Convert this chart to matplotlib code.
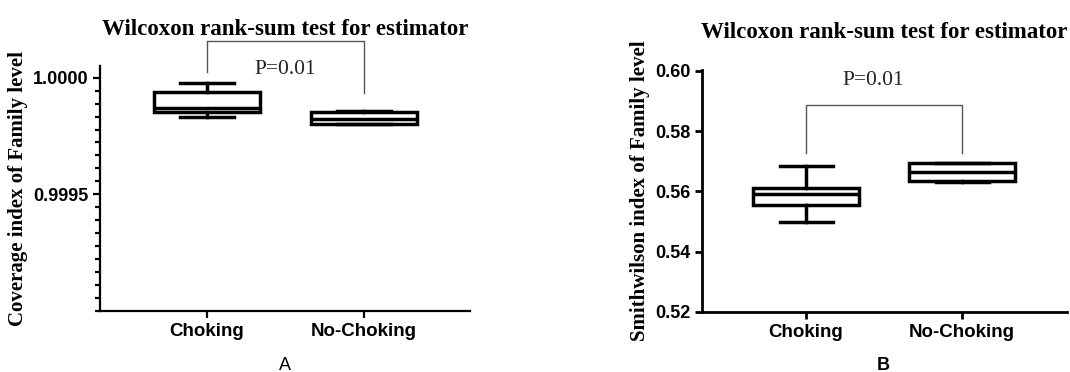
import matplotlib
matplotlib.use("Agg")
import matplotlib.pyplot as plt
from matplotlib.ticker import AutoMinorLocator, FixedLocator

groups = ["Choking", "No-Choking"]

# panel A: coverage index, five-number summaries
cov_whislo = [0.999830, 0.999800]
cov_q1 = [0.999852, 0.999802]
cov_med = [0.999869, 0.999825]
cov_q3 = [0.999940, 0.999854]
cov_whishi = [0.999977, 0.999857]

# panel B: smithwilson index
sw_whislo = [0.5498, 0.5633]
sw_q1 = [0.5554, 0.5636]
sw_med = [0.5590, 0.5663]
sw_q3 = [0.5610, 0.5693]
sw_whishi = [0.5683, 0.5696]

p_text = "P=0.01"
title = "Wilcoxon rank-sum test for estimator"

SERIF = "Liberation Serif"
SANS = "Liberation Sans"


def stats(lo, q1, med, q3, hi):
    return [dict(whislo=lo[i], q1=q1[i], med=med[i], q3=q3[i], whishi=hi[i], fliers=[])
            for i in range(len(lo))]


def draw_box(ax, st, lw):
    ax.bxp(st, positions=[1, 2], widths=0.68, capwidths=0.34, showfliers=False,
           patch_artist=True,
           boxprops=dict(facecolor="white", edgecolor="black", linewidth=lw),
           medianprops=dict(color="black", linewidth=lw),
           whiskerprops=dict(color="black", linewidth=lw),
           capprops=dict(color="black", linewidth=lw))


def style(ax, spine_lw):
    for s in ("top", "right"):
        ax.spines[s].set_visible(False)
    for s in ("left", "bottom"):
        ax.spines[s].set_linewidth(spine_lw)
    ax.set_xticks([1, 2])
    ax.set_xticklabels(groups, fontfamily=SANS, fontweight="bold", fontsize=13.5)
    ax.tick_params(axis="both", which="major", length=5, width=spine_lw, color="black")
    ax.tick_params(axis="y", which="minor", length=3.5, width=spine_lw)
    for lab in ax.get_yticklabels():
        lab.set_fontfamily(SANS)
        lab.set_fontweight("bold")
        lab.set_fontsize(13)


def bracket(ax, y_top, y_left, y_right):
    ax.plot([1, 1, 2, 2], [y_left, y_top, y_top, y_right], color="#555555",
            linewidth=1.0, clip_on=False)


fig = plt.figure(figsize=(10.7, 3.72), dpi=100)

# ---- A
axA = fig.add_axes([100 / 1070, 61 / 372, 370 / 1070, 245 / 372])
draw_box(axA, stats(cov_whislo, cov_q1, cov_med, cov_q3, cov_whishi), 2.5)
axA.set_xlim(0.318, 2.675)
axA.set_ylim(0.9990, 1.00005)
axA.yaxis.set_major_locator(FixedLocator([0.9995, 1.0000]))
axA.yaxis.set_major_formatter(matplotlib.ticker.FormatStrFormatter("%.4f"))
axA.yaxis.set_minor_locator(AutoMinorLocator(9))
style(axA, 1.6)
axA.set_ylabel("Coverage index of Family level", fontfamily=SERIF,
               fontweight="bold", fontsize=15)
axA.yaxis.set_label_coords(-0.195, 0.5)
axA.set_title(title, fontfamily=SERIF, fontweight="bold", fontsize=16.5, pad=22)
bracket(axA, 1.000156, 1.000023, 0.999934)
axA.text(1.5, 1.000036, p_text, fontfamily=SERIF, fontsize=15.5,
         ha="center", va="center", color="#222222")

# ---- B
axB = fig.add_axes([702 / 1070, 60 / 372, 365 / 1070, 242 / 372])
draw_box(axB, stats(sw_whislo, sw_q1, sw_med, sw_q3, sw_whishi), 2.5)
axB.set_xlim(0.333, 2.673)
axB.set_ylim(0.52, 0.6003)
axB.set_yticks([0.52, 0.54, 0.56, 0.58, 0.60])
axB.yaxis.set_major_formatter(matplotlib.ticker.FormatStrFormatter("%.2f"))
style(axB, 2.0)
axB.set_ylabel("Smithwilson index of Family level", fontfamily=SERIF,
               fontweight="bold", fontsize=15)
axB.yaxis.set_label_coords(-0.142, 0.5)
axB.set_title(title, fontfamily=SERIF, fontweight="bold", fontsize=16.5, pad=23)
bracket(axB, 0.5888, 0.5729, 0.5729)
axB.text(1.43, 0.5967, p_text, fontfamily=SERIF, fontsize=15.5,
         ha="center", va="center", color="#222222")

fig.text(285 / 1070, 1 - 365 / 372, "A", fontfamily=SANS, fontsize=13,
         ha="center", va="center")
fig.text(883 / 1070, 1 - 365 / 372, "B", fontfamily=SANS, fontsize=13,
         fontweight="bold", ha="center", va="center")

fig.savefig("out.png", dpi=100, facecolor="white")
